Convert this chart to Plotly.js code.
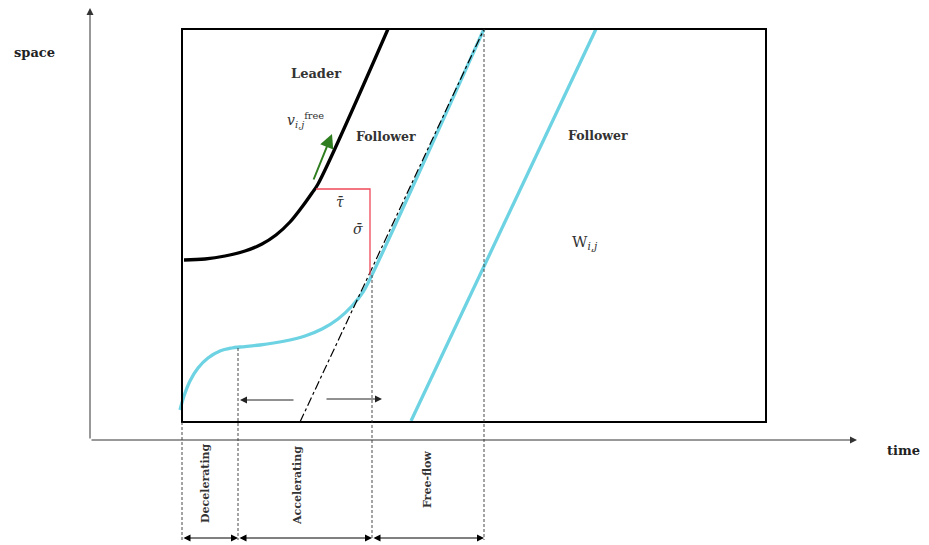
<!DOCTYPE html>
<html><head><meta charset="utf-8">
<script src="https://cdn.plot.ly/plotly-3.0.1.min.js"></script>
<style>html,body{margin:0;padding:0;background:#fff}#c{width:929px;height:545px}</style>
</head><body><div id="c"></div>
<script>
// Diagram coordinates (x: time units, y: space units; y grows downward like the picture)
const leaderX = [184, 205, 225, 245, 262, 276, 290, 302, 312, 318, 388];
const leaderY = [260, 259, 256, 251, 244, 235, 222, 207, 193, 184, 29];
const follower1X = [180, 184, 190, 198, 208, 220, 232, 240, 260, 285, 305, 322, 338, 352, 363, 370, 484];
const follower1Y = [410, 396, 381, 368, 358, 351, 348, 347, 345, 341, 336, 329, 319, 306, 292, 279, 29];
const follower2X = [411, 596];
const follower2Y = [421, 29];
const tangentX = [300, 484];
const tangentY = [422, 29];
const redX = [316, 370, 370];
const redY = [189, 189, 275];
const boxX = [182, 766];
const boxY = [29, 422];
const phaseBounds = [182, 238, 372, 484];
const phaseTops = [422, 348, 275, 29];
const phaseLabels = ["Decelerating", "Accelerating", "Free-flow"];
const phaseLabelX = [205, 297, 427];
const phaseLabelY = [483, 486, 480];

const serif = "DejaVu Serif, Liberation Serif, serif";
const cyan = "#6dd3e3";

const traces = [
  {x: leaderX, y: leaderY, mode: "lines", line: {color: "#000", width: 3.3, shape: "spline"}},
  {x: follower1X, y: follower1Y, mode: "lines", line: {color: cyan, width: 3.3, shape: "spline"}},
  {x: follower2X, y: follower2Y, mode: "lines", line: {color: cyan, width: 3.3}},
  {x: tangentX, y: tangentY, mode: "lines", line: {color: "#000", width: 1.2, dash: "dashdot"}},
  {x: redX, y: redY, mode: "lines", line: {color: "#f0485a", width: 1.3}}
].map(t => Object.assign(t, {hoverinfo: "skip", showlegend: false}));

const shapes = [
  {type: "rect", xref: "x", yref: "y", x0: boxX[0], x1: boxX[1], y0: boxY[0], y1: boxY[1], line: {color: "#000", width: 2}}
];
phaseBounds.forEach((b, i) => shapes.push({type: "line", xref: "x", yref: "y", x0: b, x1: b, y0: phaseTops[i], y1: 540, line: {color: "#333", width: 0.9, dash: "3px,2px"}}));

const anns = [];
const arr = (x, y, ax, ay, side, col, w) => anns.push({x, y, ax, ay, xref: "x", yref: "y", axref: "x", ayref: "y", text: "", showarrow: true, arrowhead: 2, arrowsize: 1.4, arrowwidth: w || 1, arrowcolor: col || "#000", arrowside: side || "end", startarrowhead: 2, startarrowsize: 1.4});
// main axes
arr(90, 8, 90, 440, "end", "#333", 1);
arr(857, 440, 90, 440, "end", "#333", 1);
// phase spans
for (let i = 0; i < 3; i++) arr(phaseBounds[i + 1], 538, phaseBounds[i], 538, "end+start", "#000", 1);
// inner arrows
arr(240, 400, 295, 400, "end", "#222", 1);
arr(382, 399, 325, 399, "end", "#222", 1);
// velocity arrow
arr(332, 134, 313, 181, "end", "#2e7d1e", 2);

const txt = (x, y, text, size, extra) => anns.push(Object.assign({x, y, xref: "x", yref: "y", text, showarrow: false, font: {family: serif, size: size || 13, color: "#333"}}, extra || {}));
txt(34, 52, "<b>space</b>", 13, {font: {family: serif, size: 13, color: "#222"}});
txt(903, 450, "<b>time</b>", 13, {font: {family: serif, size: 13, color: "#222"}});
txt(316, 73, "<b>Leader</b>", 13);
txt(386, 136, "<b>Follower</b>", 12.5);
txt(598, 135, "<b>Follower</b>", 12.5);
txt(305, 120, "<i>v</i><sub><i>i,j</i></sub><sup>free</sup>", 14);
txt(340, 202, "<i>τ̄</i>", 14);
txt(358, 229, "<i>σ̄</i>", 14);
txt(585, 242, "W<sub><i>i,j</i></sub>", 15);
phaseLabels.forEach((l, i) => txt(phaseLabelX[i], phaseLabelY[i], "<b>" + l + "</b>", 11, {textangle: -90}));

const layout = {
  width: 929, height: 545,
  margin: {l: 0, r: 0, t: 0, b: 0},
  paper_bgcolor: "#fff", plot_bgcolor: "#fff",
  xaxis: {range: [0, 929], visible: false, fixedrange: true},
  yaxis: {range: [545, 0], visible: false, fixedrange: true},
  shapes, annotations: anns, showlegend: false
};
Plotly.newPlot("c", traces, layout, {staticPlot: true});
</script></body></html>
